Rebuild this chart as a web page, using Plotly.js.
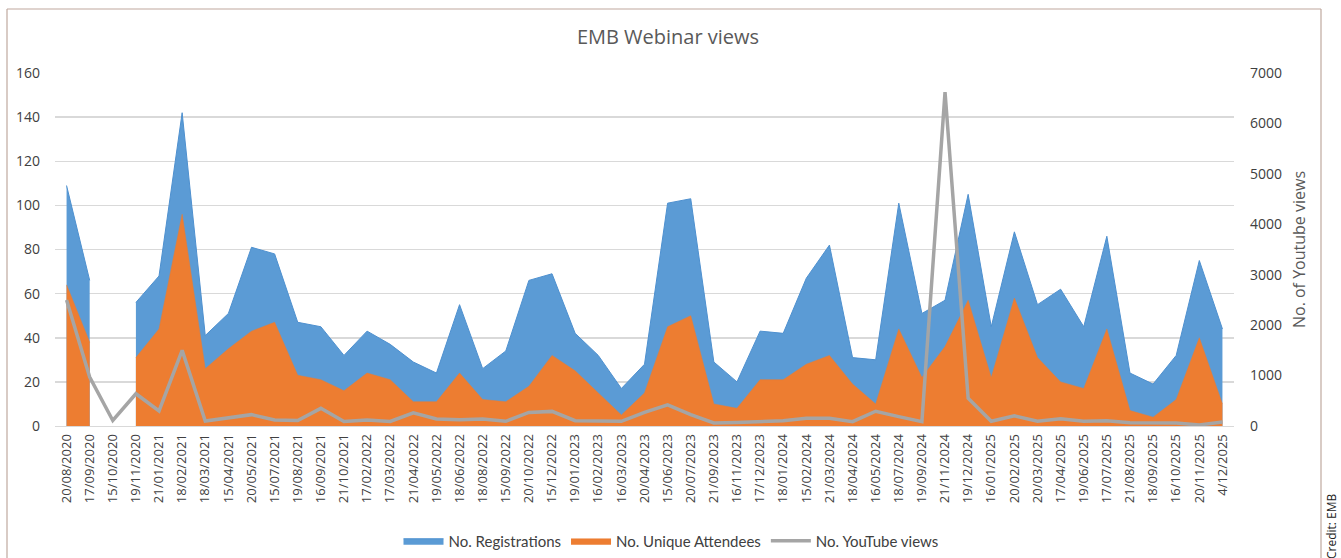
<!DOCTYPE html>
<html>
<head>
<meta charset="utf-8">
<script src="https://cdn.plot.ly/plotly-3.0.1.min.js"></script>
<style>
html,body{margin:0;padding:0;background:#fff;}
#chart{width:1341px;height:558px;}
</style>
</head>
<body>
<div id="chart"></div>
<script>
const dates = ["20/08/2020","17/09/2020","15/10/2020","19/11/2020","21/01/2021","18/02/2021","18/03/2021","15/04/2021","20/05/2021","15/07/2021","19/08/2021","16/09/2021","21/10/2021","17/02/2022","17/03/2022","21/04/2022","19/05/2022","18/06/2022","18/08/2022","15/09/2022","20/10/2022","15/12/2022","19/01/2023","16/02/2023","16/03/2023","20/04/2023","15/06/2023","20/07/2023","21/09/2023","16/11/2023","17/12/2023","18/01/2024","15/02/2024","21/03/2024","18/04/2024","16/05/2024","18/07/2024","19/09/2024","21/11/2024","19/12/2024","16/01/2025","20/02/2025","20/03/2025","17/04/2025","19/06/2025","17/07/2025","21/08/2025","18/09/2025","16/10/2025","20/11/2025","4/12/2025"];

const registrations = [109,66,null,56,68,142,41,51,81,78,47,45,32,43,37,29,24,55,26,34,66,69,42,32,17,28,101,103,29,20,43,42,67,82,31,30,101,51,57,105,45,88,55,62,45,86,24,19,32,75,44];

const attendees = [64,38,null,31,44,96,26,35,43,47,23,21,16,24,21,11,11,24,12,11,18,32,25,15,5,15,45,50,10,8,21,21,28,32,19,10,44,22,36,57,22,58,31,20,17,44,7,4,12,40,10];

const youtubeViews = [2500,970,110,640,300,1500,100,170,225,120,110,350,90,120,90,260,140,126,140,93,270,290,106,100,93,270,420,225,60,70,86,106,152,152,86,292,186,86,6620,550,93,200,93,146,93,106,66,66,60,20,80];

const leftTicks = [0,20,40,60,80,100,120,140,160];
const rightTicks = [0,1000,2000,3000,4000,5000,6000,7000];

// split a series into contiguous runs (gaps -> separate filled areas)
function segments(xs, ys) {
  const out = []; let cur = null;
  for (let i = 0; i < ys.length; i++) {
    if (ys[i] === null) { cur = null; continue; }
    if (!cur) { cur = {x: [], y: []}; out.push(cur); }
    cur.x.push(xs[i]); cur.y.push(ys[i]);
  }
  return out;
}

const traces = [];
segments(dates, registrations).forEach((s, k) => {
  traces.push({
    type: 'scatter', mode: 'lines', x: s.x, y: s.y, fill: 'tozeroy',
    name: 'No. Registrations', legendgroup: 'reg', showlegend: k === 0,
    line: {color: '#4E90CF', width: 1}, fillcolor: '#5B9BD5', hoverinfo: 'x+y'
  });
});
segments(dates, attendees).forEach((s, k) => {
  traces.push({
    type: 'scatter', mode: 'lines', x: s.x, y: s.y, fill: 'tozeroy',
    name: 'No. Unique Attendees', legendgroup: 'att', showlegend: k === 0,
    line: {color: '#ED7D31', width: 0.5}, fillcolor: '#ED7D31', hoverinfo: 'x+y'
  });
});
traces.push({
  type: 'scatter', mode: 'lines', x: dates, y: youtubeViews, yaxis: 'y2',
  name: 'No. YouTube views', line: {color: '#A5A5A5', width: 3.5}
});

const W = 1341, H = 558;
const L = 55, R = 1234, T = 73, B = 426;
const px = v => (v - L) / (R - L);
const py = v => (B - v) / (B - T);
const frameColor = '#BFA89E';

const layout = {
  width: W, height: H,
  margin: {l: L, r: W - R, t: T, b: H - B, pad: 0, autoexpand: false},
  paper_bgcolor: '#ffffff', plot_bgcolor: '#ffffff',
  font: {family: 'Open Sans, sans-serif', color: '#595959'},
  title: {text: 'EMB Webinar views', font: {family: 'Open Sans, sans-serif', size: 20, color: '#595959'},
          x: 668 / W, xanchor: 'center', xref: 'container', y: 1 - 37 / H, yanchor: 'middle', yref: 'container'},
  showlegend: true,
  legend: {orientation: 'h', x: px(671), xanchor: 'center', y: py(541), yanchor: 'middle',
           font: {family: 'Lato, sans-serif', size: 15, color: '#404040'}, itemwidth: 40,
           traceorder: 'normal', bgcolor: 'rgba(0,0,0,0)'},
  xaxis: {type: 'category', categoryorder: 'array', categoryarray: dates, range: [-0.5, dates.length - 0.5],
          tickangle: -90, tickfont: {size: 13, color: '#404040'}, showgrid: false, zeroline: false,
          showline: true, linecolor: '#D9D9D9', linewidth: 1, ticks: '', fixedrange: true, automargin: false,
          ticklabelstandoff: 2},
  yaxis: {range: [0, 160], tickvals: leftTicks, ticktext: leftTicks.map(String), showgrid: true,
          gridcolor: '#D9D9D9', gridwidth: 1.5, zeroline: false, showline: false, ticks: '',
          tickfont: {size: 14, color: '#404040'}, ticklabelstandoff: 14, automargin: false},
  yaxis2: {range: [0, 7000], overlaying: 'y', side: 'right', tickvals: rightTicks, ticktext: rightTicks.map(String),
           showgrid: false, zeroline: false, showline: false, ticks: '', tickfont: {size: 14, color: '#404040'},
           ticklabelstandoff: 15, automargin: false,
           title: {text: 'No. of Youtube views', font: {size: 16, color: '#595959'}, standoff: 12}},
  shapes: [
    {type: 'line', xref: 'paper', yref: 'paper', x0: px(7), x1: px(7), y0: py(9), y1: py(560), line: {color: frameColor, width: 1.2}},
    {type: 'line', xref: 'paper', yref: 'paper', x0: px(7), x1: px(1321), y0: py(9), y1: py(9), line: {color: frameColor, width: 1.2}},
    {type: 'line', xref: 'paper', yref: 'paper', x0: px(1321), x1: px(1321), y0: py(9), y1: py(560), line: {color: frameColor, width: 1.2}}
  ],
  annotations: [
    {text: 'Credit: EMB', xref: 'paper', yref: 'paper', x: px(1331), y: py(561), xanchor: 'center', yanchor: 'bottom',
     textangle: -90, showarrow: false, font: {family: 'Open Sans, sans-serif', size: 12, color: '#222222'}}
  ]
};

Plotly.newPlot('chart', traces, layout, {displayModeBar: false, staticPlot: true});
</script>
</body>
</html>
